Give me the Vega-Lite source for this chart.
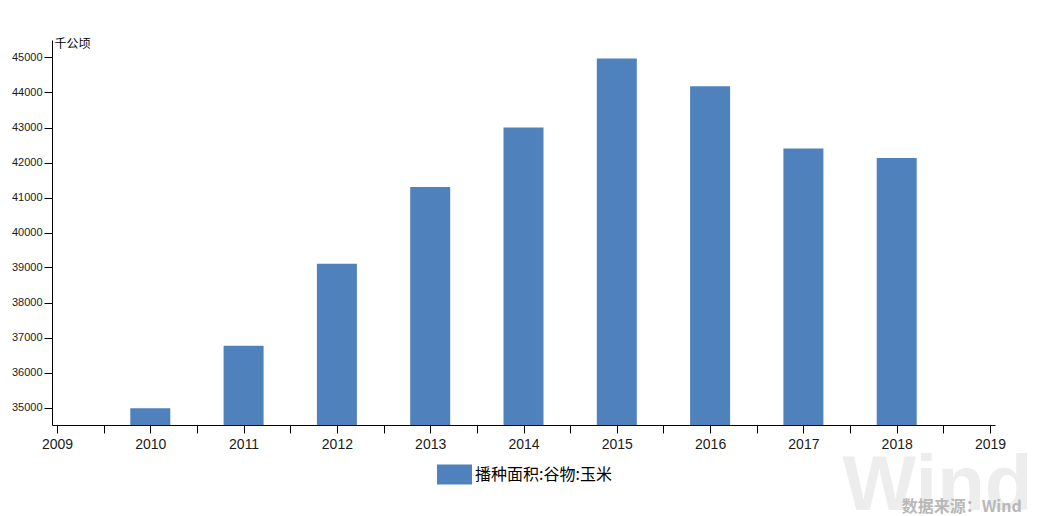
{
  "$schema": "https://vega.github.io/schema/vega-lite/v6.json",
  "width": 943,
  "height": 385,
  "autosize": "none",
  "padding": {"left": 52, "top": 40, "right": 53, "bottom": 91},
  "background": "white",
  "config": {
    "view": {"stroke": null},
    "axis": {"grid": false, "domainColor": "#000000", "tickColor": "#000000", "labelColor": "#1a1a1a", "labelFont": "Liberation Sans", "domainWidth": 1, "tickWidth": 1}
  },
  "data": {"values": [
    {"year": 2010, "value": 34977, "series": "播种面积:谷物:玉米"},
    {"year": 2011, "value": 36767, "series": "播种面积:谷物:玉米"},
    {"year": 2012, "value": 39109, "series": "播种面积:谷物:玉米"},
    {"year": 2013, "value": 41299, "series": "播种面积:谷物:玉米"},
    {"year": 2014, "value": 42997, "series": "播种面积:谷物:玉米"},
    {"year": 2015, "value": 44968, "series": "播种面积:谷物:玉米"},
    {"year": 2016, "value": 44178, "series": "播种面积:谷物:玉米"},
    {"year": 2017, "value": 42399, "series": "播种面积:谷物:玉米"},
    {"year": 2018, "value": 42130, "series": "播种面积:谷物:玉米"}
  ]},
  "layer": [
    {
      "data": {"values": [{}]},
      "mark": {"type": "text", "text": "Wind", "font": "Liberation Sans", "fontWeight": "bold", "fontSize": 78, "color": "#ededed", "align": "left", "baseline": "alphabetic"},
      "encoding": {
        "x": {"datum": 2017.42, "type": "quantitative"},
        "y": {"datum": 32070, "type": "quantitative"}
      }
    },
    {
      "mark": {"type": "bar", "width": 40},
      "encoding": {
        "x": {
          "field": "year", "type": "quantitative",
          "scale": {"domain": [2009, 2019], "nice": false, "zero": false},
          "axis": {
            "title": null,
            "values": [2009, 2009.5, 2010, 2010.5, 2011, 2011.5, 2012, 2012.5, 2013, 2013.5, 2014, 2014.5, 2015, 2015.5, 2016, 2016.5, 2017, 2017.5, 2018, 2018.5, 2019],
            "tickCount": 30,
            "labelExpr": "datum.value % 1 === 0 ? '' + datum.value : ''",
            "labelOverlap": false,
            "labelFlush": false,
            "labelFontSize": 14,
            "labelPadding": 4,
            "tickSize": 8,
            "encode": {"ticks": {"update": {"y2": {"signal": "datum.value % 1 === 0 ? 8 : 4"}}}}
          }
        },
        "y": {
          "field": "value", "type": "quantitative",
          "scale": {"domain": [34500, 45500], "nice": false, "zero": false},
          "axis": {
            "title": "千公顷",
            "titleAngle": 0,
            "titleAlign": "left",
            "titleBaseline": "middle",
            "titleX": 2,
            "titleY": 3,
            "titleFont": "Noto Sans CJK SC",
            "titleFontSize": 12,
            "titleFontWeight": "normal",
            "titleColor": "#000000",
            "values": [35000, 36000, 37000, 38000, 39000, 40000, 41000, 42000, 43000, 44000, 45000],
            "tickCount": 20,
            "format": "d",
            "labelOverlap": false,
            "labelFontSize": 11,
            "labelPadding": 2,
            "tickSize": 8
          }
        },
        "y2": {"datum": 34500},
        "color": {
          "field": "series", "type": "nominal",
          "scale": {"range": ["#4f81bd"]},
          "legend": {
            "title": null,
            "orient": "none",
            "legendX": 385,
            "legendY": 417,
            "padding": 0,
            "symbolType": "M-1,-0.571L1,-0.571L1,0.571L-1,0.571Z",
            "symbolSize": 1225,
            "symbolStrokeWidth": 0,
            "symbolOpacity": 1,
            "labelFont": "Noto Sans CJK SC",
            "labelFontSize": 16,
            "labelColor": "#000000",
            "labelOffset": 3
          }
        }
      }
    },
    {
      "data": {"values": [{}]},
      "mark": {"type": "text", "text": "数据来源：Wind", "font": "Noto Sans CJK SC", "fontWeight": "bold", "fontSize": 16, "color": "#b8b8b8", "align": "right", "baseline": "middle"},
      "encoding": {
        "x": {"datum": 2019.34, "type": "quantitative"},
        "y": {"datum": 32170, "type": "quantitative"}
      }
    }
  ]
}
